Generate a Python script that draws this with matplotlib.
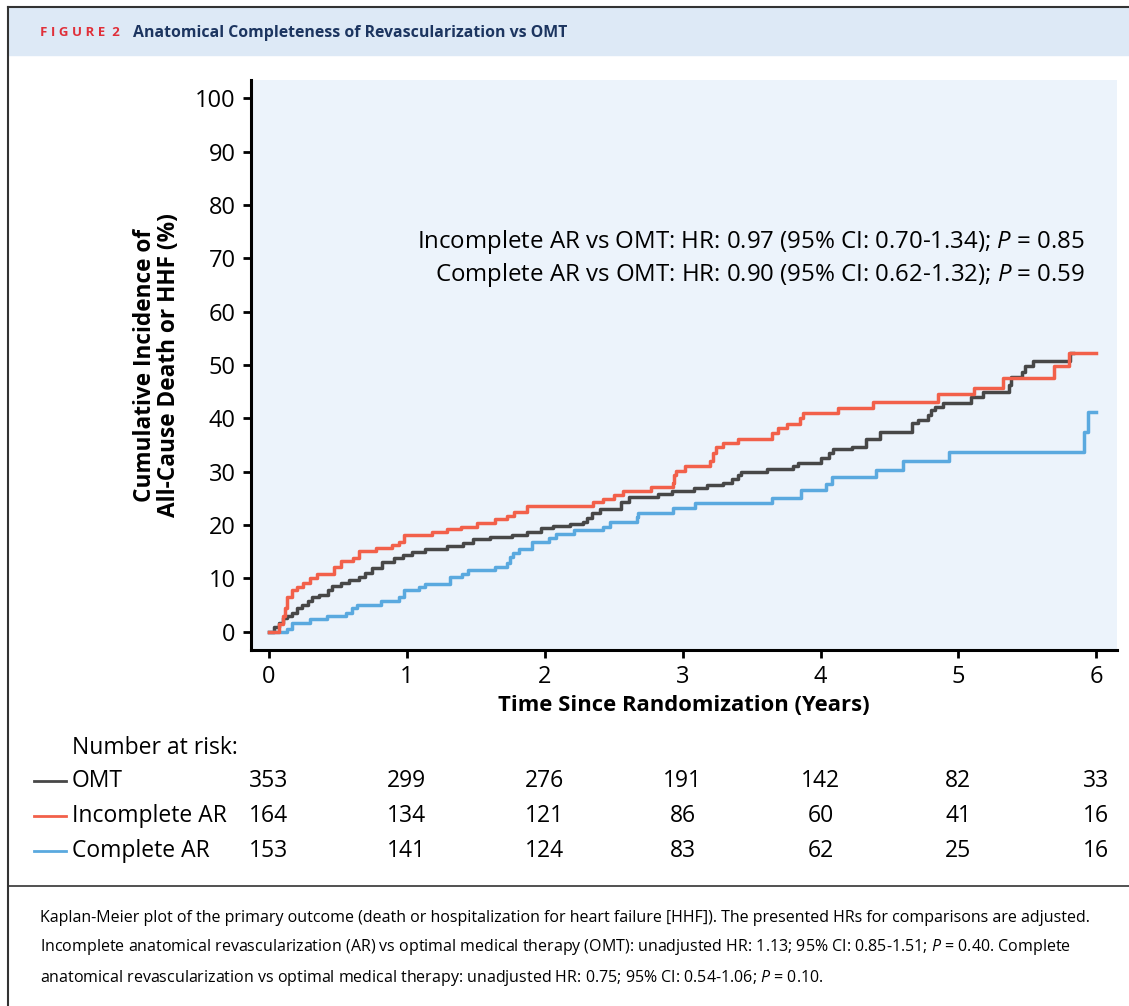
import matplotlib
matplotlib.use("Agg")
import matplotlib.pyplot as plt

plt.rcParams['font.family'] = ['Open Sans', 'DejaVu Sans']
plt.rcParams['mathtext.fontset'] = 'custom'
plt.rcParams['mathtext.rm'] = 'Open Sans'
plt.rcParams['mathtext.it'] = 'Open Sans:italic'

# Kaplan-Meier step points (years, cumulative %)
omt_t = [0, 0.03, 0.04, 0.07, 0.10, 0.13, 0.17, 0.20, 0.24, 0.28, 0.31, 0.36, 0.43, 0.46,
         0.52, 0.58, 0.65, 0.70, 0.75, 0.82, 0.91, 0.97, 1.04, 1.13, 1.29, 1.41, 1.48, 1.60,
         1.76, 1.87, 1.97, 2.06, 2.18, 2.28, 2.31, 2.34, 2.40, 2.55, 2.61, 2.82, 2.92, 3.08,
         3.18, 3.29, 3.36, 3.40, 3.42, 3.61, 3.80, 3.84, 4.00, 4.06, 4.09, 4.23, 4.33, 4.43,
         4.66, 4.71, 4.78, 4.80, 4.83, 4.89, 5.09, 5.18, 5.37, 5.38, 5.46, 5.48, 5.54, 5.81, 5.83]
omt_v = [0, 0, 0.9, 1.6, 2.6, 3.0, 3.6, 4.4, 5.1, 5.7, 6.5, 6.9, 7.9, 8.6,
         9.1, 9.7, 10.2, 11.0, 11.9, 13.0, 13.8, 14.4, 15.0, 15.6, 16.1, 16.6, 17.4, 17.7,
         18.2, 18.8, 19.5, 19.8, 20.2, 20.6, 21.4, 22.3, 23.0, 24.3, 25.3, 25.8, 26.4, 27.0,
         27.5, 27.9, 28.6, 29.3, 30.0, 30.5, 31.1, 31.7, 32.6, 33.5, 34.3, 34.6, 36.1, 37.4,
         39.1, 39.7, 40.6, 41.6, 42.2, 42.9, 44.0, 44.9, 46.3, 47.8, 48.7, 49.8, 50.8, 52.2, 52.2]

inc_t = [0, 0.04, 0.07, 0.10, 0.12, 0.13, 0.17, 0.20, 0.25, 0.30, 0.35, 0.47, 0.52, 0.61,
         0.65, 0.78, 0.89, 0.94, 0.98, 1.18, 1.29, 1.39, 1.51, 1.64, 1.73, 1.78, 1.87, 2.35,
         2.42, 2.50, 2.57, 2.77, 2.93, 2.94, 2.95, 3.02, 3.20, 3.22, 3.24, 3.29, 3.40, 3.65,
         3.69, 3.76, 3.85, 3.87, 4.13, 4.38, 4.85, 5.11, 5.32, 5.69, 5.80, 6.0]
inc_v = [0, 0, 1.5, 3.0, 4.5, 6.6, 7.9, 8.4, 9.2, 10.1, 10.8, 12.1, 13.3, 13.9,
         15.2, 15.7, 16.3, 16.9, 18.2, 18.8, 19.3, 19.7, 20.4, 21.2, 21.7, 22.4, 23.6, 24.3,
         24.9, 25.7, 26.4, 27.1, 27.9, 29.4, 30.2, 31.1, 32.0, 33.5, 34.7, 35.4, 36.1, 37.2,
         38.2, 38.9, 40.1, 41.0, 42.0, 43.1, 44.6, 45.7, 47.6, 49.8, 52.2, 52.2]

com_t = [0, 0.13, 0.17, 0.30, 0.42, 0.56, 0.60, 0.64, 0.81, 0.94, 0.98, 1.09, 1.13, 1.31,
         1.40, 1.44, 1.64, 1.73, 1.75, 1.77, 1.81, 1.91, 2.03, 2.08, 2.21, 2.42, 2.47, 2.67,
         2.68, 2.93, 3.09, 3.65, 3.86, 4.04, 4.08, 4.40, 4.60, 4.93, 5.91, 5.94, 6.0]
com_v = [0, 0.6, 1.7, 2.4, 3.0, 3.6, 4.4, 5.1, 5.7, 6.6, 7.9, 8.4, 9.0, 10.3,
         10.9, 11.6, 12.2, 12.9, 14.0, 14.8, 15.5, 16.9, 17.6, 18.4, 19.1, 19.7, 20.6, 21.5,
         22.3, 23.2, 24.2, 25.1, 26.6, 27.7, 29.0, 30.3, 32.0, 33.7, 37.5, 41.2, 41.2]

groups = ["OMT", "Incomplete AR", "Complete AR"]
colors = ["#474747", "#f2604a", "#5aa9df"]
risk_years = [0, 1, 2, 3, 4, 5, 6]
at_risk = [[353, 299, 276, 191, 142, 82, 33],
           [164, 134, 121, 86, 60, 41, 16],
           [153, 141, 124, 83, 62, 25, 16]]

W, H = 1129, 1006
fig = plt.figure(figsize=(W / 100, H / 100), dpi=100)

# header band and frame lines
fig.patches.append(plt.Rectangle((8 / W, 1 - 55 / H), 1, 48 / H,
                                 transform=fig.transFigure, color="#dde9f6", zorder=0))
fig.add_artist(plt.Line2D([8 / W, 1], [1 - 7 / H, 1 - 7 / H], color="#333333", lw=1.5))
fig.add_artist(plt.Line2D([8 / W, 8 / W], [0, 1 - 7 / H], color="#333333", lw=1.5))
fig.add_artist(plt.Line2D([8 / W, 1], [1 - 886 / H, 1 - 886 / H], color="#333333", lw=1.2))
fig.text(40 / W, 1 - 33 / H, "F I G U R E  2", color="#e0303a", fontsize=9.5, fontweight="bold",
         va="center", ha="left")
fig.text(133 / W, 1 - 33 / H, "Anatomical Completeness of Revascularization vs OMT",
         color="#1c3560", fontsize=11.4, fontweight="bold", va="center", ha="left")

ax = fig.add_axes([251 / W, 1 - 650 / H, 866 / W, 570 / H])
ax.set_facecolor("#ecf3fb")
ax.step(omt_t, omt_v, where="post", color=colors[0], lw=2.5)
ax.step(com_t, com_v, where="post", color=colors[2], lw=2.5)
ax.step(inc_t, inc_v, where="post", color=colors[1], lw=2.5)
ax.set_xlim(-0.13, 6.15)
ax.set_ylim(-3.4, 103.4)
ax.set_xticks(range(0, 7))
ax.set_yticks(range(0, 101, 10))
for s in ["top", "right"]:
    ax.spines[s].set_visible(False)
for s in ["left", "bottom"]:
    ax.spines[s].set_linewidth(2.2)
ax.tick_params(axis="both", direction="out", length=6, width=2, labelsize=17, pad=5)
ax.set_xlabel("Time Since Randomization (Years)", fontsize=15.8, fontweight="bold", labelpad=4)
ax.set_ylabel("Cumulative Incidence of\nAll-Cause Death or HHF (%)", fontsize=16.3,
              fontweight="bold", labelpad=10, linespacing=1.0)

xr = (1085 - 251) / 866
ax.text(xr, (650 - 242) / 570,
        "Incomplete AR vs OMT: HR: 0.97 (95% CI: 0.70-1.34); $\\mathit{P}$ = 0.85",
        transform=ax.transAxes, ha="right", va="center", fontsize=17.3)
ax.text(xr, (650 - 275) / 570,
        "Complete AR vs OMT: HR: 0.90 (95% CI: 0.62-1.32); $\\mathit{P}$ = 0.59",
        transform=ax.transAxes, ha="right", va="center", fontsize=17.3)

# number at risk table
fig.text(72 / W, 1 - 748 / H, "Number at risk:", fontsize=16.5, va="center", ha="left")
row_y = [781, 816, 851]
for name, col, counts, yp in zip(groups, colors, at_risk, row_y):
    yf = 1 - yp / H
    fig.add_artist(plt.Line2D([34 / W, 66 / W], [yf, yf], color=col, lw=2))
    fig.text(72 / W, yf, name, fontsize=16.5, va="center", ha="left")
    for yr, n in zip(risk_years, counts):
        xd = ax.transData.transform((yr, 0))[0]
        fig.text(xd / W, yf, str(n), fontsize=16.5, va="center", ha="center")

caption = ("Kaplan-Meier plot of the primary outcome (death or hospitalization for heart failure [HHF]). "
           "The presented HRs for comparisons are adjusted.\n"
           "Incomplete anatomical revascularization (AR) vs optimal medical therapy (OMT): unadjusted HR: 1.13; "
           "95% CI: 0.85-1.51; $\\mathit{P}$ = 0.40. Complete\n"
           "anatomical revascularization vs optimal medical therapy: unadjusted HR: 0.75; 95% CI: 0.54-1.06; "
           "$\\mathit{P}$ = 0.10.")
fig.text(40 / W, 1 - 949 / H, caption, fontsize=11.5, va="center", ha="left", linespacing=1.75)

fig.savefig("out.png", dpi=100)
